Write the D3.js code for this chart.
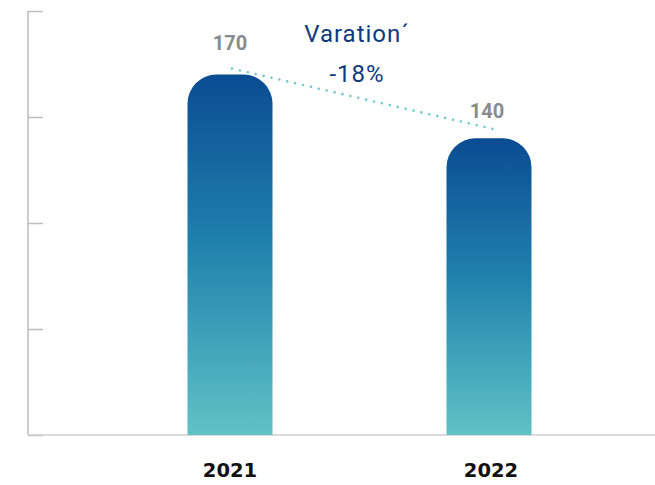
<!DOCTYPE html>
<html>
<head>
<meta charset="utf-8">
<script src="https://cdn.jsdelivr.net/npm/d3@7"></script>
<style>
  html, body { margin: 0; padding: 0; background: #fff; }
  svg { display: block; }
</style>
</head>
<body>
<svg id="chart" width="655" height="485"></svg>
<script>
// Data
const years = ["2021", "2022"];
const values = [170, 140];
const yTicks = [0, 50, 100, 150, 200];
const variationTitle = "Varation´";

const svg = d3.select("#chart");
const W = 655, H = 485;

const x = d3.scalePoint().domain(years).range([230, 489]);
const y = d3.scaleLinear().domain([0, 200]).range([435, 11]);

// Gradient fill: each bar runs dark blue at its top to teal at its base
const defs = svg.append("defs");
const grad = defs.append("linearGradient")
  .attr("id", "barGrad")
  .attr("x1", 0).attr("x2", 0).attr("y1", 0).attr("y2", 1);
grad.append("stop").attr("offset", "0%").attr("stop-color", "#0a4c92");
grad.append("stop").attr("offset", "45%").attr("stop-color", "#1f7fac");
grad.append("stop").attr("offset", "100%").attr("stop-color", "#5fc3c5");

// Axes
const axisColor = "#bdbdbd";
const yAxis = d3.axisRight(y).tickValues(yTicks).tickSize(15).tickFormat("");
const gy = svg.append("g").attr("transform", "translate(28,0)").call(yAxis);
gy.select(".domain").attr("stroke", axisColor).attr("stroke-width", 1.5).attr("d", `M0,${y(200)}V${y(0)}`);
gy.selectAll(".tick line").attr("stroke", axisColor).attr("stroke-width", 1.5);

svg.append("line")
  .attr("x1", 28).attr("x2", W).attr("y1", y(0)).attr("y2", y(0))
  .attr("stroke", "#cfcfcf").attr("stroke-width", 1.5);

// Bars with rounded tops
const bw = 85;
const r = 29;
function barPath(cx, v) {
  const x0 = cx - bw / 2, x1 = cx + bw / 2, top = y(v), bot = y(0);
  return `M${x0},${bot}V${top + r}A${r},${r} 0 0 1 ${x0 + r},${top}H${x1 - r}A${r},${r} 0 0 1 ${x1},${top + r}V${bot}Z`;
}

svg.selectAll("path.bar").data(years).join("path")
  .attr("class", "bar")
  .attr("d", (d, i) => barPath(x(d), values[i]))
  .attr("fill", "url(#barGrad)");

// Value labels above the bars
const labelGap = [25, 20];
svg.selectAll("text.val").data(years).join("text")
  .attr("class", "val")
  .attr("x", (d, i) => x(d) - 2 * i)
  .attr("y", (d, i) => y(values[i]) - labelGap[i])
  .attr("text-anchor", "middle")
  .attr("font-family", "Roboto, sans-serif")
  .attr("font-weight", "700")
  .attr("font-size", 20)
  .attr("fill", "#888b90")
  .text((d, i) => values[i]);

// Year labels
svg.selectAll("text.year").data(years).join("text")
  .attr("class", "year")
  .attr("x", (d, i) => x(d) + 2 * i)
  .attr("y", 477)
  .attr("text-anchor", "middle")
  .attr("font-family", "'DejaVu Sans', sans-serif")
  .attr("font-weight", "700")
  .attr("font-size", 19.5)
  .attr("fill", "#111")
  .text(d => d);

// Dotted trend line between bar tops
const p0 = [x(years[0]) + 2, y(values[0]) - 6];
const p1 = [x(years[1]) + 5, y(values[1]) - 9];
svg.append("line")
  .attr("x1", p0[0]).attr("y1", p0[1]).attr("x2", p1[0]).attr("y2", p1[1])
  .attr("stroke", "#6ccaca").attr("stroke-width", 2.6)
  .attr("stroke-linecap", "round").attr("stroke-dasharray", "0 8.1");

// Variation annotation
const pct = Math.round((values[1] - values[0]) / values[0] * 100);
const midX = 357;
svg.append("text")
  .attr("x", midX).attr("y", 42).attr("text-anchor", "middle")
  .attr("font-family", "Roboto, sans-serif").attr("font-size", 24)
  .attr("letter-spacing", 1)
  .attr("fill", "#0d3b7c").text(variationTitle);
svg.append("text")
  .attr("x", midX).attr("y", 82).attr("text-anchor", "middle")
  .attr("font-family", "Roboto, sans-serif").attr("font-size", 24)
  .attr("letter-spacing", 1)
  .attr("fill", "#0d3b7c").text(pct + "%");
</script>
</body>
</html>
